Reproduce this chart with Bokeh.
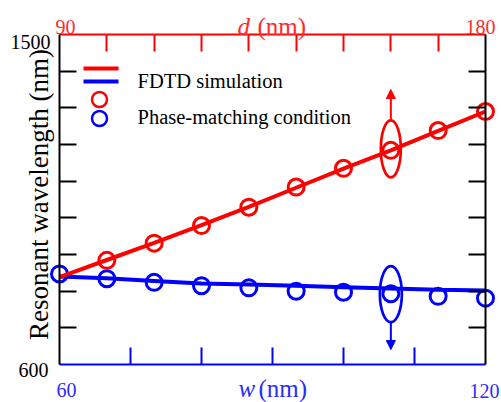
import math
from bokeh.plotting import figure
from bokeh.models import Range1d, LinearAxis, FixedTicker, Label, Arrow, NormalHead
from bokeh.embed import file_html
from bokeh.resources import INLINE

# ---------------- data ----------------
w_vals = [60, 66.67, 73.33, 80, 86.67, 93.33, 100, 106.67, 113.33, 120]
d_vals = [90, 100, 110, 120, 130, 140, 150, 160, 170, 180]
red_fdtd = [838, 885, 932, 980, 1030, 1082, 1134, 1184, 1237, 1290]
red_phase_d = [100, 110, 120, 130, 140, 150, 160, 170, 180]
red_phase = [884, 931, 979, 1029, 1084, 1135, 1184, 1238, 1290]
blue_fdtd = [840, 835, 828, 821, 818, 815, 811, 807, 804, 802]
blue_phase = [847, 834, 824, 815, 809, 800, 797, 793, 786, 781]

y_ticks = [700, 800, 900, 1000, 1100, 1200, 1300, 1400]
w_ticks = [70, 80, 90, 100, 110]
d_ticks = [100, 110, 120, 130, 140, 150, 160, 170]
y_tick_labels = ["600", "1500"]
w_tick_labels = ["60", "120"]
d_tick_labels = ["90", "180"]
legend_labels = ["FDTD simulation", "Phase-matching condition"]

# ---------------- layout ----------------
W, H = 501, 402
L, R, T, B = 59, 485, 34, 364          # pixel box of the axes
XMIN, XMAX, YMIN, YMAX = 60, 120, 600, 1500
DMIN, DMAX = 90, 180

def xw(px):
    return XMIN + (px - L) * (XMAX - XMIN) / (R - L)

def xd(px):
    return DMIN + (px - L) * (DMAX - DMIN) / (R - L)

def yd(py):
    return YMIN + (B - py) * (YMAX - YMIN) / (B - T)

RED = "#ff0000"
BLUE = "#0000ff"
RED_T = "#ff2b2b"
BLUE_T = "#2b2bff"
FONT = "Liberation Serif"

p = figure(width=W, height=H, x_range=Range1d(xw(0), xw(W)), y_range=Range1d(yd(H), yd(0)),
           output_backend="svg", toolbar_location=None,
           min_border_left=0, min_border_right=0, min_border_top=0, min_border_bottom=0,
           outline_line_color=None, background_fill_color="white", border_fill_color="white")
p.extra_x_ranges = {"d": Range1d(xd(0), xd(W))}
p.xgrid.visible = False
p.ygrid.visible = False

def style_axis(ax, ticks, color, loc, bounds):
    ax.fixed_location = loc
    ax.bounds = bounds
    ax.ticker = FixedTicker(ticks=[], minor_ticks=ticks)
    ax.major_tick_line_color = None
    ax.minor_tick_in = 17
    ax.minor_tick_out = 0
    ax.minor_tick_line_color = color
    ax.minor_tick_line_width = 2
    ax.axis_line_color = color
    ax.axis_line_width = 2
    ax.axis_label = None

style_axis(p.below[0], w_ticks, BLUE, YMIN, (XMIN, XMAX))
style_axis(p.left[0], y_ticks, "black", XMIN, (YMIN, YMAX))
top_axis = LinearAxis(x_range_name="d")
style_axis(top_axis, d_ticks, RED, YMAX, (DMIN, DMAX))
p.add_layout(top_axis, "above")
right_axis = LinearAxis()
style_axis(right_axis, y_ticks, "black", XMAX, (YMIN, YMAX))
p.add_layout(right_axis, "right")

# ---------------- series ----------------
p.line(w_vals, blue_fdtd, line_color=BLUE, line_width=4)
p.scatter(w_vals, blue_phase, marker="circle", size=16, fill_color=None,
          line_color=BLUE, line_width=3)
p.line(d_vals, red_fdtd, line_color=RED, line_width=4, x_range_name="d")
p.scatter(red_phase_d, red_phase, marker="circle", size=16, fill_color=None,
          line_color=RED, line_width=3, x_range_name="d")

# ellipses + arrows
ell_red_y = red_phase[6] + 4
ell_blue_y = blue_phase[7] - 1
red_h = 57 * (YMAX - YMIN) / (B - T)
blue_h = 56 * (YMAX - YMIN) / (B - T)
p.ellipse([d_vals[7]], [ell_red_y], width=20 * (DMAX - DMIN) / (R - L), height=red_h,
          fill_color=None, line_color=RED, line_width=2.7, x_range_name="d")
p.ellipse([w_vals[7]], [ell_blue_y], width=22 * (XMAX - XMIN) / (R - L), height=blue_h,
          fill_color=None, line_color=BLUE, line_width=2.7)
p.add_layout(Arrow(x_start=d_vals[7], y_start=ell_red_y + red_h / 2, x_end=d_vals[7], y_end=yd(89),
                   x_range_name="d", line_color=RED, line_width=2,
                   end=NormalHead(size=9, fill_color=RED, line_color=RED)))
p.add_layout(Arrow(x_start=w_vals[7], y_start=ell_blue_y - blue_h / 2, x_end=w_vals[7], y_end=yd(349),
                   line_color=BLUE, line_width=2,
                   end=NormalHead(size=9, fill_color=BLUE, line_color=BLUE)))

# ---------------- legend (manual) ----------------
p.line([xw(83), xw(118)], [yd(68), yd(68)], line_color=RED, line_width=4)
p.line([xw(83), xw(118)], [yd(81), yd(81)], line_color=BLUE, line_width=4)
p.scatter([xw(99)], [yd(99)], marker="circle", size=15, fill_color=None, line_color=RED, line_width=2.5)
p.scatter([xw(99)], [yd(118)], marker="circle", size=15, fill_color=None, line_color=BLUE, line_width=2.5)

def lab(x, y, text, color, size="20px", align="left", style="normal", baseline="alphabetic", angle=0.0):
    p.add_layout(Label(x=xw(x), y=yd(y), text=text, text_font=FONT,
                       text_font_size=size, text_color=color, text_align=align,
                       text_baseline=baseline, text_font_style=style, angle=angle))

lab(137, 80, legend_labels[0], "black", size="20.5px")
lab(137, 116, legend_labels[1], "black", size="20.5px")

# ---------------- tick labels & titles ----------------
lab(50, 41, y_tick_labels[1], "black", align="right")
lab(48, 369, y_tick_labels[0], "black", align="right")
lab(66, 389, w_tick_labels[0], BLUE_T, align="center")
lab(484, 390, w_tick_labels[1], BLUE_T, align="center")
lab(65, 26, d_tick_labels[0], RED_T, align="center")
lab(480, 26, d_tick_labels[1], RED_T, align="center")

lab(237, 26, "d", RED_T, size="25px", style="italic")
lab(257, 26, "(nm)", RED_T, size="25px")
lab(238, 388, "w", BLUE_T, size="25px", style="italic")
lab(258, 388, "(nm)", BLUE_T, size="25px")

lab(38, 194, "Resonant wavelength (nm)", "black", size="27px", align="center",
    baseline="alphabetic", angle=math.pi / 2)

open("out.html", "w").write(file_html(p, INLINE))
